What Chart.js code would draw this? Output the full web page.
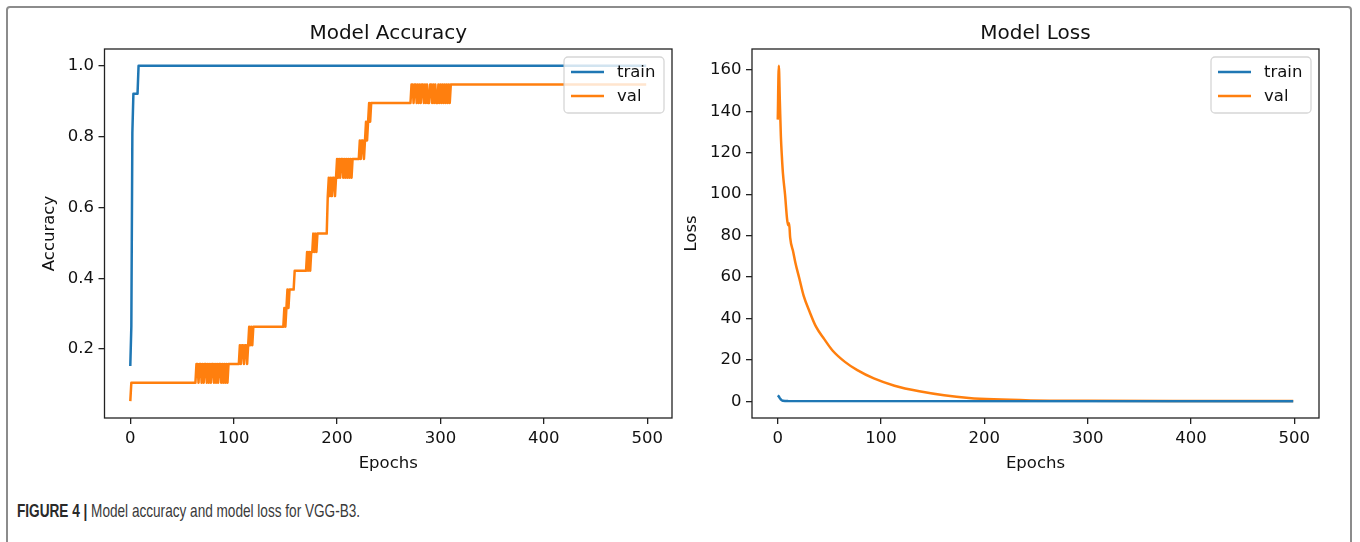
<!DOCTYPE html>
<html>
<head>
<meta charset="utf-8">
<script src="https://cdn.jsdelivr.net/npm/chart.js@4/dist/chart.umd.min.js"></script>
<style>
  html, body { margin: 0; padding: 0; background: #fff; }
  #page { position: relative; width: 1360px; height: 542px; overflow: hidden; }
  #frame { position: absolute; left: 6px; top: 6px; width: 1346px; height: 560px;
           border: 2px solid #8c8c8c; border-radius: 4px; box-sizing: border-box; }
  canvas { position: absolute; top: 0; }
  #accChart { left: 0; }
  #lossChart { left: 680px; }
  #caption { position: absolute; left: 17px; top: 500px; font-family: "Liberation Sans", Arial, sans-serif;
             font-size: 18.5px; color: #3a3a3a; white-space: nowrap;
             transform: scaleX(0.735); transform-origin: 0 0; }
  #caption b { font-weight: bold; color: #2a2a2a; }
</style>
</head>
<body>
<div id="page">
  <div id="frame"></div>
  <canvas id="accChart" width="680" height="480"></canvas>
  <canvas id="lossChart" width="680" height="480"></canvas>
  <div id="caption"><b>FIGURE 4 |</b> Model accuracy and model loss for VGG-B3.</div>
</div>
<script>
// accuracy, train
const trainAccEpochs = [0, 1, 2, 3, 7, 8, 499];
const trainAcc = [0.152, 0.263, 0.81, 0.921, 0.921, 1.0, 1.0];

// accuracy, val (steps of 1/19 with a lot of flicker)
const valAccEpochs = [
  0, 1, 63, 64, 65, 66, 67, 68, 69, 70, 71, 72, 73, 74, 75, 76, 77, 78, 79, 80,
  81, 82, 83, 84, 85, 86, 87, 88, 89, 90, 91, 92, 93, 94, 95, 105, 106, 107, 108, 109,
  110, 111, 112, 113, 114, 115, 116, 117, 118, 119, 148, 149, 150, 151, 152, 153, 154, 158, 159, 170,
  171, 172, 173, 174, 175, 176, 177, 178, 179, 180, 181, 182, 190, 191, 192, 193, 194, 195, 196, 197,
  198, 199, 200, 201, 202, 203, 204, 205, 206, 207, 208, 209, 210, 211, 212, 213, 214, 215, 221, 222,
  223, 224, 225, 226, 227, 228, 229, 230, 231, 232, 233, 271, 272, 273, 274, 275, 276, 277, 278, 279,
  280, 281, 282, 283, 284, 285, 286, 287, 288, 289, 290, 291, 292, 293, 294, 295, 296, 297, 298, 299,
  300, 301, 302, 303, 304, 305, 306, 307, 308, 309, 310, 499
];
const valAcc = [
  0.053, 0.105, 0.105, 0.158, 0.158, 0.105, 0.158, 0.158, 0.105, 0.158, 0.105, 0.158, 0.158, 0.105, 0.158, 0.105, 0.158, 0.105, 0.158, 0.158,
  0.105, 0.158, 0.105, 0.158, 0.105, 0.158, 0.158, 0.105, 0.158, 0.105, 0.158, 0.105, 0.158, 0.105, 0.158, 0.158, 0.211, 0.158, 0.211, 0.211,
  0.158, 0.211, 0.211, 0.158, 0.211, 0.263, 0.211, 0.263, 0.211, 0.263, 0.263, 0.316, 0.263, 0.316, 0.368, 0.316, 0.368, 0.368, 0.421, 0.421,
  0.474, 0.421, 0.474, 0.421, 0.474, 0.474, 0.526, 0.474, 0.526, 0.474, 0.526, 0.526, 0.526, 0.632, 0.684, 0.632, 0.684, 0.632, 0.684, 0.684,
  0.632, 0.684, 0.737, 0.684, 0.737, 0.684, 0.737, 0.737, 0.684, 0.737, 0.684, 0.737, 0.684, 0.737, 0.684, 0.737, 0.684, 0.737, 0.737, 0.789,
  0.737, 0.789, 0.789, 0.737, 0.789, 0.842, 0.789, 0.842, 0.895, 0.842, 0.895, 0.895, 0.947, 0.947, 0.895, 0.947, 0.947, 0.895, 0.947, 0.895,
  0.947, 0.895, 0.947, 0.947, 0.895, 0.947, 0.895, 0.947, 0.895, 0.895, 0.947, 0.947, 0.895, 0.947, 0.895, 0.947, 0.895, 0.895, 0.947, 0.895,
  0.947, 0.895, 0.947, 0.895, 0.947, 0.895, 0.947, 0.895, 0.947, 0.895, 0.947, 0.947
];

// loss, train
const trainLossEpochs = [0, 1, 2, 3, 4, 5, 7, 10, 499];
const trainLoss = [2.8, 2.3, 1.5, 0.8, 0.4, 0.2, 0.1, 0.05, 0.02];

// loss, val
const valLossEpochs = [0, 1, 2, 3, 4, 5, 7, 9, 10, 11, 12, 15, 17, 21, 25, 31, 37, 45, 53, 65,
  77, 93, 113, 137, 161, 185, 209, 245, 300, 400, 499];
const valLoss = [136, 162, 145, 128, 118, 110, 100, 88, 85, 86, 79, 72, 67, 59, 51, 43, 36, 30, 24.5, 19,
  15, 11, 7.5, 4.8, 2.9, 1.6, 0.9, 0.4, 0.2, 0.1, 0.08];

const xTicks = [0, 100, 200, 300, 400, 500];
const accTicks = [0.2, 0.4, 0.6, 0.8, 1.0];
const lossTicks = [0, 20, 40, 60, 80, 100, 120, 140, 160];
const seriesNames = ['train', 'val'];
const BLUE = '#1f77b4';
const ORANGE = '#ff7f0e';

Chart.defaults.font.family = '"DejaVu Sans", sans-serif';
Chart.defaults.font.size = 16.5;
Chart.defaults.color = '#111';

function pts(xs, ys) {
  return xs.map((x, i) => ({ x: x, y: ys[i] }));
}

// matplotlib-like axes box drawn over the lines
const framePlugin = {
  id: 'frame',
  afterDatasetsDraw(chart) {
    const a = chart.chartArea;
    const ctx = chart.ctx;
    ctx.save();
    ctx.strokeStyle = '#222';
    ctx.lineWidth = 1.3;
    ctx.strokeRect(a.left, a.top, a.right - a.left, a.bottom - a.top);
    ctx.restore();
  }
};

// upper-right legend with translucent box
const boxLegendPlugin = {
  id: 'boxLegend',
  afterDraw(chart) {
    const a = chart.chartArea;
    const ctx = chart.ctx;
    const w = 100, h = 56;
    const left = a.right - 8 - w;
    const top = a.top + 8;
    ctx.save();
    ctx.beginPath();
    ctx.roundRect(left, top, w, h, 4);
    ctx.fillStyle = 'rgba(255,255,255,0.8)';
    ctx.fill();
    ctx.strokeStyle = 'rgba(204,204,204,0.8)';
    ctx.lineWidth = 1.3;
    ctx.stroke();
    const cols = [BLUE, ORANGE];
    ctx.font = '16.5px "DejaVu Sans", sans-serif';
    ctx.textBaseline = 'middle';
    ctx.fillStyle = '#111';
    seriesNames.forEach((name, i) => {
      const y = top + 15 + i * 24;
      ctx.beginPath();
      ctx.moveTo(left + 7, y);
      ctx.lineTo(left + 40, y);
      ctx.strokeStyle = cols[i];
      ctx.lineWidth = 2.5;
      ctx.stroke();
      ctx.fillText(name, left + 53, y + 1);
    });
    ctx.restore();
  }
};

function makeChart(canvasId, cfg) {
  return new Chart(document.getElementById(canvasId), {
    type: 'line',
    data: {
      datasets: [
        { label: seriesNames[0], data: pts(cfg.tx, cfg.ty), borderColor: BLUE },
        { label: seriesNames[1], data: pts(cfg.vx, cfg.vy), borderColor: ORANGE,
          cubicInterpolationMode: cfg.smoothVal ? 'monotone' : 'default' }
      ]
    },
    options: {
      responsive: false,
      animation: false,
      devicePixelRatio: 1,
      layout: { padding: { left: cfg.padLeft, right: cfg.padRight, top: 0, bottom: 0 } },
      elements: {
        point: { radius: 0 },
        line: { borderWidth: 2.5, tension: 0, borderJoinStyle: 'round', fill: false }
      },
      plugins: {
        legend: { display: false },
        tooltip: { enabled: false },
        title: {
          display: true,
          text: cfg.title,
          fullSize: false,
          color: '#111',
          font: { size: 20, weight: 'normal' },
          padding: { top: 22, bottom: 3 }
        }
      },
      scales: {
        x: {
          type: 'linear',
          min: -24.95,
          max: 523.95,
          afterBuildTicks: (s) => { s.ticks = xTicks.map(v => ({ value: v })); },
          afterFit: (s) => { s.height = 62; },
          ticks: { padding: 5, color: '#111', callback: (v) => String(v) },
          grid: { drawOnChartArea: false, tickLength: 6, color: '#222', lineWidth: 1.3 },
          border: { display: false },
          title: { display: true, text: 'Epochs', color: '#111', padding: { top: 0, bottom: 6 } }
        },
        y: {
          type: 'linear',
          min: cfg.ymin,
          max: cfg.ymax,
          afterBuildTicks: (s) => { s.ticks = cfg.yTicks.map(v => ({ value: v })); },
          afterFit: (s) => { s.width = cfg.yWidth; },
          ticks: { padding: 4.5, color: '#111', callback: cfg.yFmt },
          grid: { drawOnChartArea: false, tickLength: 6, color: '#222', lineWidth: 1.3 },
          border: { display: false },
          title: { display: true, text: cfg.yTitle, color: '#111', padding: { top: 2, bottom: 0 } }
        }
      }
    },
    plugins: [framePlugin, boxLegendPlugin]
  });
}

makeChart('accChart', {
  title: 'Model Accuracy',
  yTitle: 'Accuracy',
  tx: trainAccEpochs, ty: trainAcc,
  vx: valAccEpochs, vy: valAcc,
  ymin: 0.0053, ymax: 1.0474,
  yTicks: accTicks,
  yFmt: (v) => v.toFixed(1),
  padLeft: 38, padRight: 8, yWidth: 66.5,
  smoothVal: false
});

makeChart('lossChart', {
  title: 'Model Loss',
  yTitle: 'Loss',
  tx: trainLossEpochs, ty: trainLoss,
  vx: valLossEpochs, vy: valLoss,
  ymin: -8.1, ymax: 170.1,
  yTicks: lossTicks,
  yFmt: (v) => String(v),
  padLeft: 0, padRight: 41, yWidth: 72,
  smoothVal: true
});
</script>
</body>
</html>
